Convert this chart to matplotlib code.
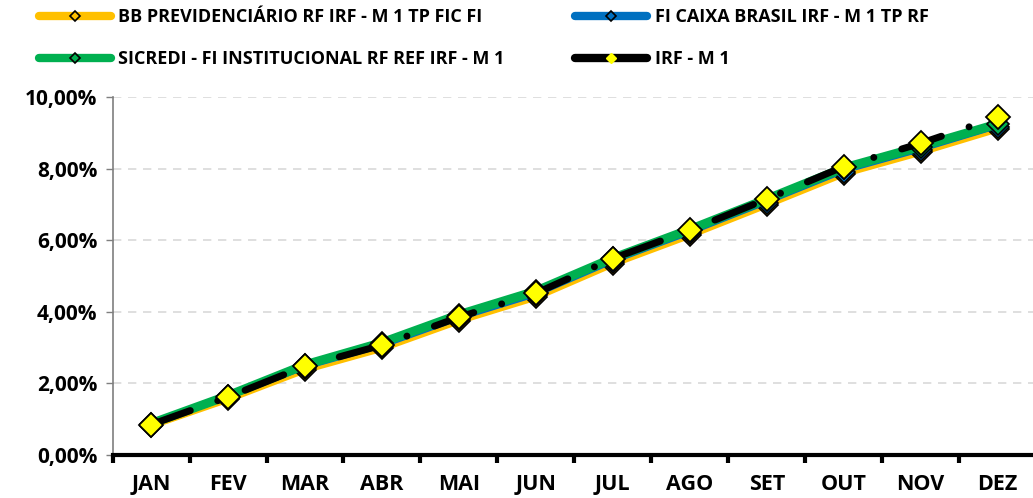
import matplotlib
matplotlib.use("Agg")
import matplotlib.pyplot as plt
from matplotlib.ticker import FuncFormatter, MultipleLocator
from matplotlib.lines import Line2D
import numpy as np

# data (accumulated returns, %)
months = ["JAN", "FEV", "MAR", "ABR", "MAI", "JUN", "JUL", "AGO", "SET", "OUT", "NOV", "DEZ"]
bb_prev = [0.82, 1.56, 2.38, 2.98, 3.75, 4.41, 5.34, 6.14, 6.99, 7.86, 8.46, 9.11]
caixa = [0.85, 1.60, 2.44, 3.04, 3.81, 4.47, 5.40, 6.20, 7.05, 7.92, 8.52, 9.17]
sicredi = [0.88, 1.66, 2.52, 3.14, 3.92, 4.58, 5.50, 6.30, 7.15, 8.02, 8.62, 9.25]
irf_m1 = [0.85, 1.62, 2.48, 3.07, 3.85, 4.52, 5.49, 6.28, 7.15, 8.06, 8.71, 9.44]

labels = ["BB PREVIDENCIÁRIO RF IRF - M 1 TP FIC FI",
          "SICREDI - FI INSTITUCIONAL RF REF IRF - M 1",
          "FI CAIXA BRASIL IRF - M 1 TP RF",
          "IRF - M 1"]

plt.rcParams["font.family"] = ["Open Sans", "DejaVu Sans"]

GOLD = "#FFC000"
BLUE = "#0070C0"
GREEN = "#00B050"

fig = plt.figure(figsize=(10.33, 4.98), dpi=100)
ax = fig.add_axes([0.109, 0.0863, 0.894, 0.7187])

x = np.arange(len(months))

ax.plot(x, bb_prev, color=GOLD, lw=5, marker="D", ms=11,
        mfc=GOLD, mec="black", mew=1.2, zorder=3)
ax.plot(x, caixa, color=BLUE, lw=3, marker="D", ms=11,
        mfc=BLUE, mec="black", mew=1.2, zorder=4)
ax.plot(x, sicredi, color=GREEN, lw=6.5, marker="D", ms=11,
        mfc=GREEN, mec="black", mew=1.2, zorder=5)
ax.plot(x, irf_m1, color="black", lw=5, zorder=6,
        ls=(0, (6, 4.2, 0.01, 4.2)), dash_capstyle="round")
ax.plot(x, irf_m1, ls="none", marker="D", ms=12, mfc="#FFFF00", mec="black",
        mew=1.3, zorder=7)

ax.set_xlim(-0.5, 11.5)
ax.set_ylim(0, 10)
ax.yaxis.set_major_locator(MultipleLocator(2))
ax.yaxis.set_major_formatter(FuncFormatter(lambda v, p: f"{v:.2f}%".replace(".", ",")))
ax.set_xticks(x)
ax.set_xticklabels(months)
ax.set_xticks(np.arange(-0.5, 12, 1), minor=True)
ax.tick_params(axis="x", which="major", length=0, pad=14, labelsize=15.5)
ax.tick_params(axis="x", which="minor", length=6, width=3, color="black", direction="out")
ax.tick_params(axis="y", length=5, width=1, color="#7F7F7F", labelsize=15, pad=6)
for t in ax.get_xticklabels() + ax.get_yticklabels():
    t.set_fontweight("bold")

ax.grid(axis="y", ls=(0, (5, 4)), color="#D9D9D9", lw=1.2)
ax.set_axisbelow(True)
for s in ["top", "right"]:
    ax.spines[s].set_visible(False)
ax.spines["left"].set_color("#7F7F7F")
ax.spines["left"].set_linewidth(1.2)
ax.spines["bottom"].set_color("black")
ax.spines["bottom"].set_linewidth(3)
ax.spines["bottom"].set_zorder(8)

h_bb = Line2D([], [], color=GOLD, lw=6, marker="D", ms=5, mfc=GOLD, mec="black", mew=1.2,
              solid_capstyle="round")
h_cx = Line2D([], [], color=BLUE, lw=6, marker="D", ms=5, mfc=BLUE, mec="black", mew=1.2,
              solid_capstyle="round")
h_sc = Line2D([], [], color=GREEN, lw=6, marker="D", ms=5, mfc=GREEN, mec="black", mew=1.2,
              solid_capstyle="round")
h_irf = Line2D([], [], color="black", lw=6, marker="D", ms=5, mfc="#FFFF00", mec="#FFFF00",
               solid_capstyle="round")

leg = fig.legend([h_bb, h_sc, h_cx, h_irf], labels, ncol=2, loc="upper left",
                 bbox_to_anchor=(0.029, 1.002), frameon=False, handlelength=4.0,
                 handletextpad=0.4, columnspacing=3.9, labelspacing=1.32,
                 borderpad=0.0, prop={"weight": "bold", "size": 13})

fig.savefig("out.png", dpi=100)
